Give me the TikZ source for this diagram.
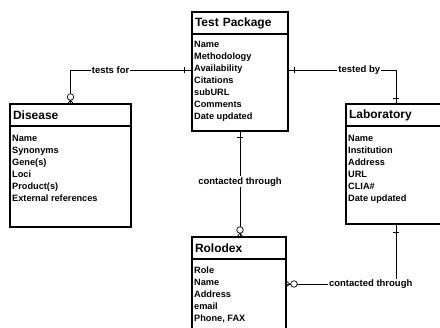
\documentclass[tikz,border=0pt]{standalone}
\usepackage{fontspec}
\setmainfont{Liberation Sans}
\usetikzlibrary{positioning, calc}

\begin{document}
\begin{tikzpicture}[x=1pt, y=-1pt]
        \tikzset{
            etitle/.style={draw, line width=1.1pt, anchor=north west, outer sep=0pt, inner xsep=3pt, minimum height=22pt, align=left, font=\bfseries\fontsize{12}{14}\selectfont},
            ebody/.style={draw, line width=1.1pt, outer sep=0pt, inner sep=0pt},
            elist/.style={anchor=north west, align=left, inner xsep=2pt, inner ysep=8.5pt, font=\bfseries\fontsize{9.2}{12}\selectfont},
            link/.style={line width=0.7pt},
            lbl/.style={fill=white, inner xsep=1pt, inner ysep=1pt, font=\bfseries\fontsize{9.5}{11}\selectfont},
            ring/.style={draw, circle, fill=white, line width=0.7pt, inner sep=0pt, minimum size=6.5pt}
        }
        \clip (0,0) rectangle (440,328);

        % Entities
        \node[etitle, text width=90pt] (tp) at (192,12) {Test Package};
        \node[ebody, minimum width=96pt, minimum height=97pt, below=0pt of tp] (tpb) {};
        \node[elist, inner ysep=6.5pt] (tpl) at (tpb.north west) {Name\\Methodology\\Availability\\Citations\\subURL\\Comments\\Date updated};

        \node[etitle, text width=115pt] (dis) at (10,104) {Disease};
        \node[ebody, minimum width=121pt, minimum height=101pt, below=0pt of dis] (disb) {};
        \node[elist] (disl) at (disb.north west) {Name\\Synonyms\\Gene(s)\\Loci\\Product(s)\\External references};

        \node[etitle, text width=94pt] (lab) at (346,104) {Laboratory};
        \node[ebody, minimum width=100pt, minimum height=98pt, below=0pt of lab] (labb) {};
        \node[elist] (labl) at (labb.north west) {Name\\Institution\\Address\\URL\\CLIA\#\\Date updated};

        \node[etitle, text width=88pt] (rol) at (192,237) {Rolodex};
        \node[ebody, minimum width=94pt, minimum height=80pt, below=0pt of rol] (rolb) {};
        \node[elist, inner ysep=7.5pt] (roll) at (rolb.north west) {Role\\Name\\Address\\email\\Phone, FAX};

        % Connection points
        \coordinate (tpL) at ($(tpb.north west)+(0,36)$);
        \coordinate (tpR) at ($(tpb.north east)+(0,36)$);
        \coordinate (rolR) at ($(rolb.north east)+(0,25)$);

        % tests for
        \draw[link] (tpL) -- node[lbl, pos=0.67] {tests for} (tpL -| dis.north) -- (dis.north);
        \draw[link] ($(tpL)+(-8,-3)$) -- ++(0,6);
        \draw[link] ($(dis.north)+(-3,0)$) -- ($(dis.north)+(0,-4)$) -- ($(dis.north)+(3,0)$);
        \node[ring] (r1) at ($(dis.north)+(0,-7)$) {};

        % tested by
        \draw[link] (tpR) -- node[lbl, pos=0.66] {tested by} (tpR -| lab.north) -- (lab.north);
        \draw[link] ($(tpR)+(6,-3)$) -- ++(0,6);
        \draw[link] ($(lab.north)+(-3,-6)$) -- ++(6,0);

        % contacted through (test package - rolodex)
        \draw[link] (tpb.south) -- node[lbl, pos=0.48] {contacted through} (tpb.south |- rol.north);
        \draw[link] ($(tpb.south)+(-3,6)$) -- ++(6,0);
        \draw[link] ($(tpb.south |- rol.north)+(-3,0)$) -- ($(tpb.south |- rol.north)+(0,-4)$) -- ($(tpb.south |- rol.north)+(3,0)$);
        \node[ring] (r2) at ($(tpb.south |- rol.north)+(0,-7)$) {};

        % contacted through (laboratory - rolodex)
        \draw[link] (labb.south) -- (labb.south |- rolR) -- node[lbl, pos=0.23] {contacted through} (rolR);
        \draw[link] ($(labb.south)+(-3,8)$) -- ++(6,0);
        \draw[link] ($(rolR)+(0,-3)$) -- ($(rolR)+(4,0)$) -- ($(rolR)+(0,3)$);
        \node[ring] (r3) at ($(rolR)+(8,0)$) {};
    \end{tikzpicture}
\end{document}
